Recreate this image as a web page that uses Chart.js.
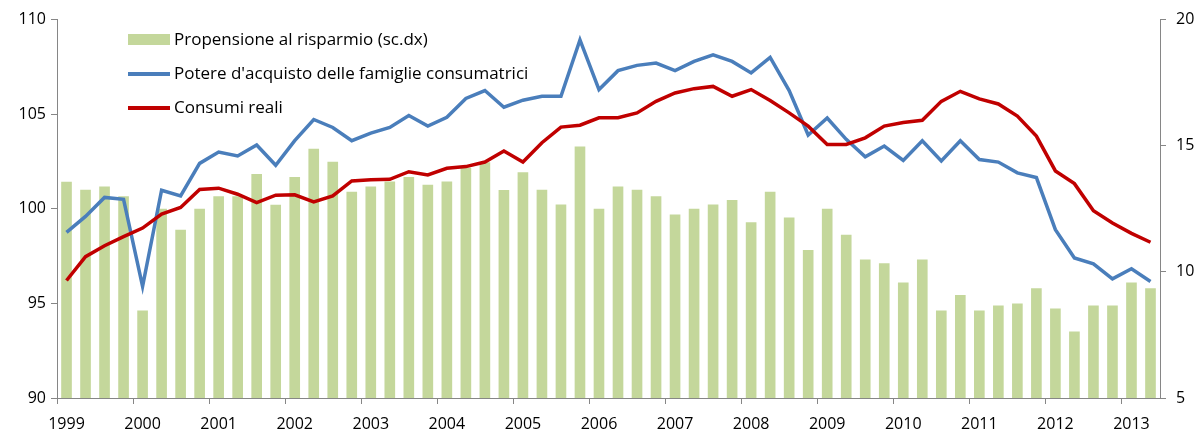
<!DOCTYPE html>
<html lang="it">
<head>
    <meta charset="UTF-8">
    <title>Potere d'acquisto, consumi e propensione al risparmio</title>
    <script src="https://cdn.jsdelivr.net/npm/chart.js"></script>
    <style>
        html, body { margin: 0; padding: 0; background: #fff; }
        #wrap { width: 1200px; height: 438px; }
    </style>
</head>
<body>
    <div id="wrap"><canvas id="grafico" width="1200" height="438"></canvas></div>

    <script>
        // anni e trimestri (1999 T1 - 2013 T2)
        const anni = ['1999','2000','2001','2002','2003','2004','2005','2006','2007','2008','2009','2010','2011','2012','2013'];
        const trimestri = [];
        anni.forEach(a => {
            ['T1','T2','T3','T4'].forEach(t => trimestri.push(a + ' ' + t));
        });
        trimestri.length = 58;

        // propensione al risparmio (scala destra)
        const propensione = [
            13.57, 13.26, 13.38, 13.0, 8.47, 12.5, 11.67, 12.5,
            13.0, 13.0, 13.88, 12.66, 13.76, 14.88, 14.37, 13.18,
            13.38, 13.58, 13.76, 13.45, 13.58, 14.13, 14.35, 13.25,
            13.95, 13.26, 12.67, 14.97, 12.5, 13.38, 13.26, 13.0,
            12.27, 12.5, 12.67, 12.85, 11.97, 13.18, 12.16, 10.87,
            12.5, 11.47, 10.49, 10.34, 9.58, 10.49, 8.47, 9.08,
            8.47, 8.67, 8.75, 9.35, 8.55, 7.64, 8.67, 8.67,
            9.58, 9.35
        ];

        // potere d'acquisto delle famiglie consumatrici
        const potere = [
            98.75, 99.6, 100.6, 100.5, 95.9, 100.98, 100.68, 102.4,
            103.0, 102.79, 103.37, 102.3, 103.6, 104.72, 104.3, 103.6,
            104.0, 104.3, 104.93, 104.37, 104.84, 105.83, 106.25, 105.37,
            105.74, 105.95, 105.95, 108.93, 106.3, 107.3, 107.58, 107.7,
            107.3, 107.79, 108.14, 107.79, 107.18, 108.0, 106.25, 103.9,
            104.8, 103.67, 102.75, 103.32, 102.56, 103.6, 102.53, 103.6,
            102.6, 102.47, 101.9, 101.65, 98.9, 97.4, 97.09, 96.3,
            96.83, 96.16
        ];

        // consumi reali
        const consumi = [
            96.21, 97.47, 98.05, 98.53, 98.98, 99.72, 100.07, 101.02,
            101.09, 100.77, 100.33, 100.72, 100.74, 100.37, 100.68, 101.47,
            101.53, 101.56, 101.96, 101.79, 102.14, 102.23, 102.47, 103.05,
            102.47, 103.49, 104.32, 104.42, 104.81, 104.81, 105.07, 105.68,
            106.12, 106.35, 106.47, 105.95, 106.3, 105.72, 105.07, 104.37,
            103.4, 103.4, 103.75, 104.37, 104.56, 104.68, 105.68, 106.21,
            105.81, 105.54, 104.9, 103.84, 102.0, 101.33, 99.9, 99.25,
            98.7, 98.23
        ];

        const grigio = '#868686';
        const font = "'Open Sans', Lato, sans-serif";

        // legenda disegnata a mano in alto a sinistra
        const legenda = {
            id: 'legenda',
            afterDraw(chart) {
                const ctx = chart.ctx;
                const x0 = 128, x1 = 170;
                ctx.save();
                ctx.font = '17px ' + font;
                ctx.textBaseline = 'middle';
                chart.data.datasets.forEach((ds, i) => {
                    const y = 40 + i * 34;
                    if (ds.type === 'bar') {
                        ctx.fillStyle = ds.backgroundColor;
                        ctx.fillRect(x0, y - 6, x1 - x0, 11);
                    } else {
                        ctx.strokeStyle = ds.borderColor;
                        ctx.lineWidth = 4;
                        ctx.beginPath();
                        ctx.moveTo(x0, y);
                        ctx.lineTo(x1, y);
                        ctx.stroke();
                    }
                    ctx.fillStyle = '#000';
                    ctx.fillText(ds.label, 174, y);
                });
                ctx.restore();
            }
        };

        const ctx = document.getElementById('grafico').getContext('2d');
        new Chart(ctx, {
            data: {
                labels: trimestri,
                datasets: [{
                    type: 'bar',
                    label: 'Propensione al risparmio (sc.dx)',
                    data: propensione,
                    yAxisID: 'yDx',
                    backgroundColor: '#c4d79b',
                    barPercentage: 0.56,
                    categoryPercentage: 1.0,
                    order: 3
                }, {
                    type: 'line',
                    label: "Potere d'acquisto delle famiglie consumatrici",
                    data: potere,
                    yAxisID: 'ySx',
                    borderColor: '#4a7ebb',
                    borderWidth: 3.5,
                    pointRadius: 0,
                    tension: 0,
                    order: 2
                }, {
                    type: 'line',
                    label: 'Consumi reali',
                    data: consumi,
                    yAxisID: 'ySx',
                    borderColor: '#c00000',
                    borderWidth: 3.5,
                    pointRadius: 0,
                    tension: 0,
                    order: 1
                }]
            },
            options: {
                responsive: false,
                animation: false,
                layout: { padding: { top: 10, left: 0, right: 0, bottom: 0 } },
                plugins: {
                    legend: { display: false },
                    tooltip: { enabled: false }
                },
                scales: {
                    x: {
                        offset: true,
                        grid: {
                            offset: true,
                            drawOnChartArea: false,
                            tickLength: 6,
                            color: c => (c.index % 4 === 0 ? grigio : 'rgba(0,0,0,0)')
                        },
                        border: { color: grigio },
                        ticks: {
                            autoSkip: false,
                            maxRotation: 0,
                            padding: 11,
                            color: '#000',
                            font: { family: font, size: 16 },
                            callback: function (v, i) { return i % 4 === 0 ? anni[i / 4] : ''; }
                        },
                        afterFit: s => { s.height = 40; }
                    },
                    ySx: {
                        position: 'left',
                        min: 90,
                        max: 110,
                        ticks: { stepSize: 5, padding: 5, color: '#000', font: { family: font, size: 16 } },
                        grid: { drawOnChartArea: false, tickLength: 6, color: grigio },
                        border: { color: grigio },
                        afterFit: s => { s.width = 57; }
                    },
                    yDx: {
                        position: 'right',
                        min: 5,
                        max: 20,
                        ticks: { stepSize: 5, padding: 10, color: '#000', font: { family: font, size: 16 } },
                        grid: { drawOnChartArea: false, tickLength: 6, color: grigio },
                        border: { color: grigio },
                        afterFit: s => { s.width = 40; }
                    }
                }
            },
            plugins: [legenda]
        });
    </script>
</body>
</html>
